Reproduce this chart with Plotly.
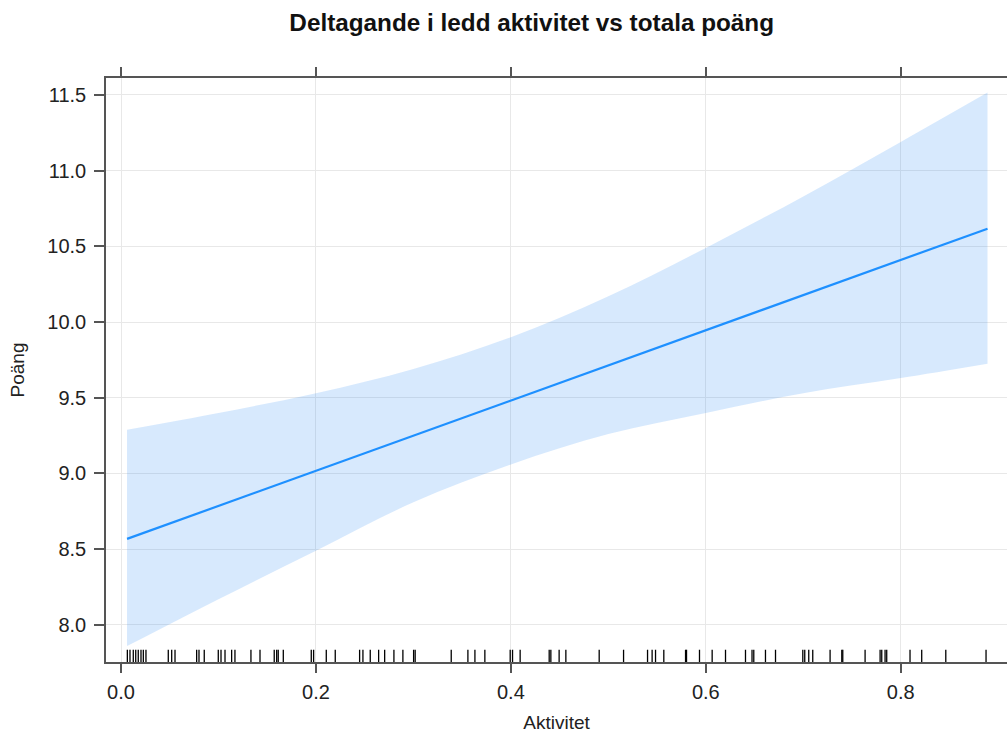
import plotly.graph_objects as go

# Effect of activity participation on total score: fitted line with confidence band
x_grid = [0.0062, 0.1, 0.2, 0.3, 0.4, 0.5, 0.6, 0.7, 0.8, 0.889]
fit = [8.568, 8.786, 9.018, 9.25, 9.482, 9.714, 9.946, 10.178, 10.41, 10.617]
upper = [9.289, 9.40, 9.53, 9.69, 9.90, 10.17, 10.49, 10.83, 11.19, 11.516]
lower = [7.86, 8.17, 8.49, 8.81, 9.06, 9.26, 9.40, 9.53, 9.63, 9.725]

# Observed activity values (rug)
rug_x = [
    0.0065, 0.0092, 0.0126, 0.0151, 0.0177, 0.0205, 0.0229, 0.0256,
    0.0485, 0.0520, 0.0554, 0.0776, 0.0800, 0.0854,
    0.0998, 0.1026, 0.1067, 0.1135, 0.1169, 0.1333, 0.1426,
    0.1572, 0.1597, 0.1613, 0.1665, 0.1952, 0.1976, 0.2106, 0.2198,
    0.2448, 0.2482, 0.2557, 0.2643, 0.2705, 0.2800, 0.2892, 0.3002, 0.3018,
    0.3388, 0.3559, 0.3631, 0.3733, 0.3993, 0.4017, 0.4095,
    0.4393, 0.4410, 0.4495, 0.4564, 0.4906, 0.5156, 0.5402,
    0.5449, 0.5484, 0.5569, 0.5792, 0.5802, 0.5935, 0.6065, 0.6202,
    0.6407, 0.6474, 0.6492, 0.6612, 0.6715, 0.6995, 0.7015, 0.7056, 0.7097,
    0.7275, 0.7395, 0.7405, 0.7634, 0.7788, 0.7805, 0.7839, 0.7856,
    0.8095, 0.8215, 0.8462, 0.8875,
]

x_ticks = [0.0, 0.2, 0.4, 0.6, 0.8]
x_tick_text = ["0.0", "0.2", "0.4", "0.6", "0.8"]
y_ticks = [8.0, 8.5, 9.0, 9.5, 10.0, 10.5, 11.0, 11.5]
y_tick_text = ["8.0", "8.5", "9.0", "9.5", "10.0", "10.5", "11.0", "11.5"]

band_color = "rgba(31,135,245,0.18)"
line_color = "#1E90FF"
frame_color = "#555555"
text_color = "#222222"
font_family = "Liberation Sans, Arial, sans-serif"

fig = go.Figure()
fig.add_trace(go.Scatter(
    x=x_grid, y=lower, mode="lines", line=dict(width=0, shape="spline", smoothing=1.0),
    hoverinfo="skip", showlegend=False,
))
fig.add_trace(go.Scatter(
    x=x_grid, y=upper, mode="lines", line=dict(width=0, shape="spline", smoothing=1.0),
    fill="tonexty", fillcolor=band_color, hoverinfo="skip", showlegend=False,
))
fig.add_trace(go.Scatter(
    x=x_grid, y=fit, mode="lines", line=dict(color=line_color, width=2.2),
    showlegend=False,
))

for v in rug_x:
    fig.add_shape(
        type="line", xref="x", yref="y domain", x0=v, x1=v, y0=0, y1=0.021,
        line=dict(color="black", width=1.3),
    )

fig.update_layout(
    width=1007, height=737,
    margin=dict(l=106, r=0, t=78, b=75),
    paper_bgcolor="white", plot_bgcolor="white",
    font=dict(family=font_family, color=text_color),
    title=dict(
        text="<b>Deltagande i ledd aktivitet vs totala poäng</b>",
        x=0.528, xref="container", xanchor="center",
        y=0.97, yref="container", yanchor="middle",
        font=dict(size=24.3, color="#111111", family=font_family),
    ),
)
fig.update_xaxes(
    range=[-0.0154, 0.909],
    tickvals=x_ticks, ticktext=x_tick_text,
    tickfont=dict(size=20, color=text_color),
    ticks="outside", ticklen=9, tickwidth=1.5, tickcolor=frame_color,
    ticklabelstandoff=2,
    showline=True, linecolor=frame_color, linewidth=1.5, mirror="ticks",
    showgrid=True, gridcolor="#e8e8e8", gridwidth=1, zeroline=False,
    title=dict(text="Aktivitet", font=dict(size=19, color=text_color), standoff=14),
)
fig.update_yaxes(
    range=[7.755, 11.612],
    tickvals=y_ticks, ticktext=y_tick_text,
    tickfont=dict(size=20, color=text_color),
    ticks="outside", ticklen=10, tickwidth=1.5, tickcolor=frame_color,
    ticklabelstandoff=4,
    showline=True, linecolor=frame_color, linewidth=1.5, mirror=False,
    showgrid=True, gridcolor="#e8e8e8", gridwidth=1, zeroline=False,
    title=dict(text="Poäng", font=dict(size=19, color=text_color), standoff=18),
)

fig.write_html("out.html")
